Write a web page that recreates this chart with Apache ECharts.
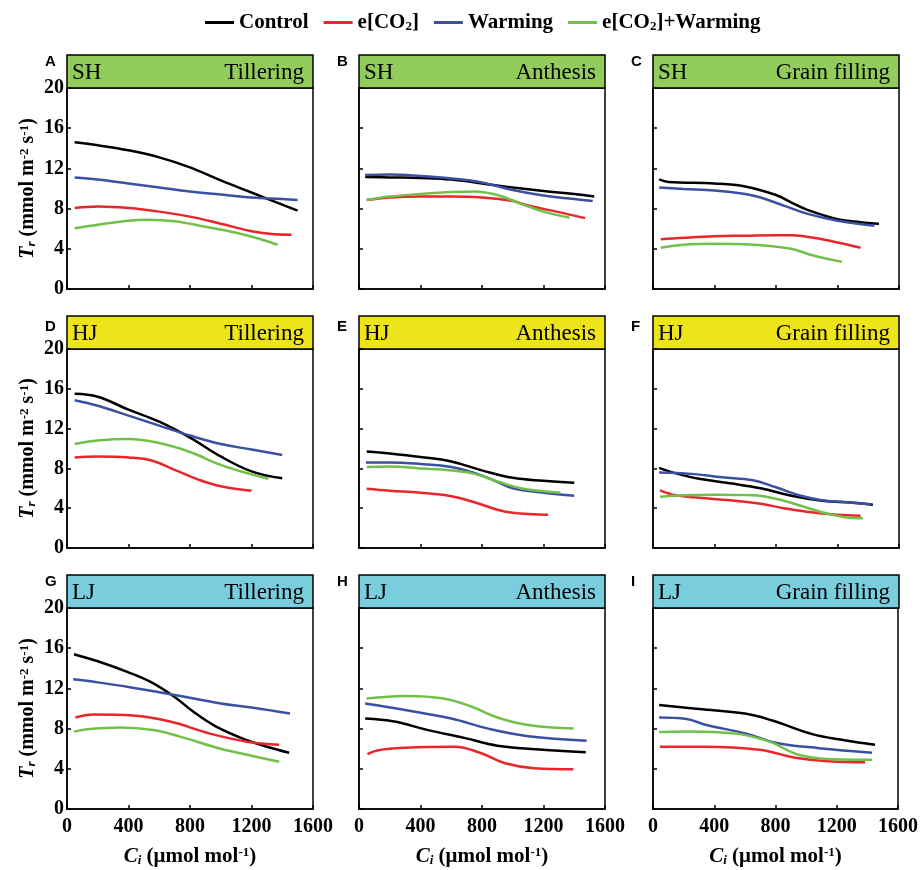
<!DOCTYPE html>
<html>
<head>
<meta charset="utf-8">
<title>Tr - Ci</title>
<script src="https://cdn.jsdelivr.net/npm/echarts@6/dist/echarts.min.js"></script>
<style>
  html, body { margin: 0; padding: 0; background: #fff; }
  #main { width: 921px; height: 870px; }
</style>
</head>
<body>
<div id="main"></div>
<script>
'use strict';
// 处理与面板名称
var treatments = ['Control', 'e[CO2]', 'Warming', 'e[CO2]+Warming'];
var treatmentColors = ['#000000', '#E8262B', '#3A50A2', '#71C04A'];
var sites = ['SH', 'HJ', 'LJ'];
var siteColors = ['#92CD5C', '#EEE41A', '#7ACDDC'];
var stages = ['Tillering', 'Anthesis', 'Grain filling'];
var panelLetters = ['A', 'B', 'C', 'D', 'E', 'F', 'G', 'H', 'I'];
var xTicks = [0, 400, 800, 1200, 1600];
var yTicks = [0, 4, 8, 12, 16, 20];

// A  SH Tillering  [Ci, Tr]
var A_control = [[50,14.6],[200,14.3],[400,13.8],[600,13.1],[800,12.1],[1000,10.8],[1200,9.6],[1400,8.4],[1500,7.8]];
var A_eco2 = [[50,8.05],[200,8.2],[400,8.05],[600,7.7],[800,7.2],[1000,6.5],[1200,5.75],[1350,5.45],[1460,5.4]];
var A_warm = [[50,11.1],[200,10.9],[400,10.5],[600,10.1],[800,9.7],[1000,9.4],[1200,9.1],[1400,8.95],[1500,8.85]];
var A_both = [[50,6.05],[200,6.4],[400,6.8],[520,6.9],[700,6.75],[900,6.2],[1100,5.6],[1250,5.0],[1370,4.4]];
// B  SH Anthesis
var B_control = [[40,11.15],[200,11.1],[400,11.05],[600,10.9],[800,10.5],[1000,10.1],[1200,9.75],[1400,9.45],[1530,9.2]];
var B_eco2 = [[50,8.85],[200,9.1],[400,9.2],[600,9.2],[800,9.1],[1000,8.75],[1100,8.3],[1300,7.65],[1470,7.05]];
var B_warm = [[40,11.35],[200,11.4],[400,11.25],[600,11.0],[800,10.6],[1000,9.85],[1200,9.3],[1400,8.95],[1520,8.75]];
var B_both = [[50,8.85],[200,9.2],[400,9.45],[600,9.65],[750,9.7],[900,9.35],[1050,8.5],[1200,7.7],[1370,7.1]];
// C  SH Grain filling
var C_control = [[40,10.9],[100,10.65],[400,10.5],[600,10.2],[800,9.35],[900,8.6],[1000,7.9],[1200,6.95],[1350,6.65],[1470,6.5]];
var C_eco2 = [[50,4.95],[200,5.1],[400,5.25],[600,5.3],[800,5.35],[900,5.35],[1000,5.2],[1150,4.8],[1350,4.1]];
var C_warm = [[40,10.1],[200,9.95],[400,9.8],[600,9.45],[700,9.1],[850,8.3],[1000,7.5],[1200,6.8],[1440,6.3]];
var C_both = [[50,4.1],[200,4.4],[400,4.5],[600,4.45],[780,4.25],[900,4.0],[1050,3.3],[1230,2.7]];
// D  HJ Tillering
var D_control = [[50,15.5],[200,15.2],[400,13.9],[600,12.7],[800,11.1],[1000,9.2],[1200,7.7],[1400,7.0]];
var D_eco2 = [[50,9.1],[200,9.2],[400,9.1],[550,8.8],[700,7.85],[850,6.9],[1000,6.2],[1200,5.75]];
var D_warm = [[50,14.85],[200,14.3],[400,13.3],[600,12.3],[800,11.3],[1000,10.45],[1200,9.9],[1400,9.35]];
var D_both = [[50,10.45],[200,10.8],[400,10.95],[600,10.55],[800,9.65],[1000,8.35],[1200,7.4],[1310,6.95]];
// E  HJ Anthesis
var E_control = [[50,9.7],[200,9.5],[400,9.15],[600,8.7],[800,7.8],[1000,7.05],[1200,6.75],[1400,6.55]];
var E_eco2 = [[50,5.95],[200,5.75],[400,5.55],[600,5.2],[750,4.6],[900,3.85],[1000,3.55],[1230,3.35]];
var E_warm = [[45,8.6],[200,8.6],[400,8.45],[600,8.15],[750,7.55],[900,6.65],[1000,6.0],[1200,5.55],[1400,5.25]];
var E_both = [[50,8.15],[200,8.2],[400,8.0],[600,7.8],[750,7.45],[900,6.7],[1050,6.0],[1200,5.7],[1310,5.55]];
// F  HJ Grain filling
var F_control = [[40,8.05],[150,7.5],[300,6.95],[500,6.5],[700,6.0],[900,5.25],[1100,4.75],[1300,4.55],[1430,4.35]];
var F_eco2 = [[45,5.8],[150,5.3],[300,5.05],[500,4.8],[700,4.45],[850,4.0],[1000,3.65],[1200,3.35],[1350,3.25]];
var F_warm = [[40,7.6],[250,7.45],[450,7.1],[650,6.8],[800,6.1],[950,5.3],[1100,4.8],[1300,4.55],[1420,4.35]];
var F_both = [[45,5.15],[200,5.3],[400,5.35],[650,5.3],[800,4.95],[950,4.3],[1100,3.6],[1250,3.1],[1365,3.0]];
// G  LJ Tillering
var G_control = [[45,15.4],[200,14.7],[400,13.6],[550,12.6],[700,11.15],[820,9.7],[970,8.2],[1170,6.85],[1300,6.2],[1445,5.6]];
var G_eco2 = [[55,9.1],[170,9.4],[430,9.3],[670,8.7],[930,7.5],[1170,6.7],[1380,6.4]];
var G_warm = [[40,12.9],[200,12.6],[400,12.15],[700,11.35],[1000,10.5],[1200,10.1],[1450,9.5]];
var G_both = [[45,7.7],[150,7.95],[345,8.1],[560,7.85],[735,7.2],[1000,6.0],[1200,5.3],[1380,4.7]];
// H  LJ Anthesis
var H_control = [[40,9.0],[230,8.7],[450,7.85],[690,7.05],[900,6.3],[1150,5.95],[1475,5.65]];
var H_eco2 = [[55,5.45],[125,5.85],[300,6.1],[620,6.2],[795,5.55],[950,4.55],[1140,4.05],[1395,3.95]];
var H_warm = [[40,10.5],[300,9.85],[600,9.0],[840,8.0],[1100,7.25],[1480,6.8]];
var H_both = [[50,11.0],[300,11.25],[550,11.0],[730,10.2],[900,9.1],[1100,8.35],[1395,8.0]];
// I  LJ Grain filling
var I_control = [[40,10.35],[300,9.95],[600,9.5],[780,8.8],[1040,7.45],[1250,6.85],[1450,6.4]];
var I_eco2 = [[45,6.2],[330,6.2],[695,5.9],[930,5.1],[1150,4.75],[1385,4.65]];
var I_warm = [[40,9.1],[220,8.95],[350,8.35],[610,7.5],[800,6.6],[1085,6.05],[1430,5.6]];
var I_both = [[40,7.65],[220,7.7],[540,7.5],[760,6.7],[950,5.4],[1170,4.95],[1430,4.9]];

var panelData = [
  [A_control, A_eco2, A_warm, A_both],
  [B_control, B_eco2, B_warm, B_both],
  [C_control, C_eco2, C_warm, C_both],
  [D_control, D_eco2, D_warm, D_both],
  [E_control, E_eco2, E_warm, E_both],
  [F_control, F_eco2, F_warm, F_both],
  [G_control, G_eco2, G_warm, G_both],
  [H_control, H_eco2, H_warm, H_both],
  [I_control, I_eco2, I_warm, I_both]
];

// 版面
var colLeft = [67, 359, 653];
var rowTop = [88, 349, 608];
var rowHeight = [201, 199, 201];
var plotWidth = 246;
var headerHeight = 33;
var serif = 'Liberation Serif';

function buildOption() {
  var grids = [], xAxes = [], yAxes = [], series = [], graphics = [];

  for (var p = 0; p < 9; p++) {
    var r = Math.floor(p / 3), c = p % 3;
    var gx = colLeft[c], gy = rowTop[r];

    grids.push({
      left: gx, top: gy, width: plotWidth, height: rowHeight[r],
      show: true, borderColor: '#000', borderWidth: 1.5, backgroundColor: 'transparent'
    });

    xAxes.push({
      type: 'value', gridIndex: p,
      min: xTicks[0], max: xTicks[xTicks.length - 1], interval: xTicks[1] - xTicks[0],
      axisLine: { lineStyle: { color: '#000', width: 1.5 } },
      axisTick: { inside: true, length: 4, lineStyle: { color: '#000', width: 1.5 } },
      axisLabel: {
        show: r === 2, margin: 8, color: '#000',
        fontFamily: serif, fontWeight: 'bold', fontSize: 20,
        formatter: function(v) { return String(v); }
      },
      splitLine: { show: false },
      name: r === 2 ? '{i|C}{sub|i} (μmol mol{sup|-1})' : '',
      nameLocation: 'middle', nameGap: 37,
      nameTextStyle: {
        color: '#000', fontFamily: serif, fontWeight: 'bold', fontSize: 21,
        rich: {
          i: { fontFamily: serif, fontWeight: 'bold', fontStyle: 'italic', fontSize: 21, color: '#000' },
          sub: { fontFamily: serif, fontWeight: 'bold', fontStyle: 'italic', fontSize: 13, verticalAlign: 'bottom', color: '#000' },
          sup: { fontFamily: serif, fontWeight: 'bold', fontSize: 13, verticalAlign: 'top', color: '#000' }
        }
      }
    });

    yAxes.push({
      type: 'value', gridIndex: p,
      min: yTicks[0], max: yTicks[yTicks.length - 1], interval: yTicks[1] - yTicks[0],
      axisLine: { lineStyle: { color: '#000', width: 1.5 } },
      axisTick: { inside: true, length: 4, lineStyle: { color: '#000', width: 1.5 } },
      axisLabel: {
        show: c === 0, margin: 3, color: '#000',
        fontFamily: serif, fontWeight: 'bold', fontSize: 20
      },
      splitLine: { show: false },
      name: c === 0 ? '{i|T}{sub|r} (mmol m{sup|-2} s{sup|-1})' : '',
      nameLocation: 'middle', nameGap: 29, nameRotate: 90,
      nameTextStyle: {
        color: '#000', fontFamily: serif, fontWeight: 'bold', fontSize: 20,
        rich: {
          i: { fontFamily: serif, fontWeight: 'bold', fontStyle: 'italic', fontSize: 20, color: '#000' },
          sub: { fontFamily: serif, fontWeight: 'bold', fontStyle: 'italic', fontSize: 13, verticalAlign: 'bottom', color: '#000' },
          sup: { fontFamily: serif, fontWeight: 'bold', fontSize: 13, verticalAlign: 'top', color: '#000' }
        }
      }
    });

    for (var t = 0; t < treatments.length; t++) {
      series.push({
        name: treatments[t], type: 'line',
        xAxisIndex: p, yAxisIndex: p,
        data: panelData[p][t],
        smooth: 0.4, showSymbol: false, symbol: 'none',
        lineStyle: { color: treatmentColors[t], width: 2.5 },
        itemStyle: { color: treatmentColors[t] },
        z: 3
      });
    }

    // 标题栏
    graphics.push({
      type: 'rect',
      shape: { x: gx, y: gy - headerHeight, width: plotWidth, height: headerHeight },
      style: { fill: siteColors[r], stroke: '#000', lineWidth: 1.5 }
    });
    graphics.push({
      type: 'text', x: gx + 5, y: gy - headerHeight / 2 + 1,
      style: { text: sites[r], fill: '#000', font: '23px "' + serif + '"', textAlign: 'left', textVerticalAlign: 'middle' }
    });
    graphics.push({
      type: 'text', x: gx + plotWidth - 9, y: gy - headerHeight / 2 + 1,
      style: { text: stages[c], fill: '#000', font: '23px "' + serif + '"', textAlign: 'right', textVerticalAlign: 'middle' }
    });
    graphics.push({
      type: 'text', x: gx - 22, y: gy - headerHeight + (r === 1 ? 11 : 7),
      style: { text: panelLetters[p], fill: '#000', font: 'bold 15px "Liberation Sans"', textAlign: 'left', textVerticalAlign: 'middle' }
    });
  }

  return {
    animation: false,
    backgroundColor: '#fff',
    legend: {
      data: treatments,
      top: 7, left: 200,
      icon: 'rect', itemWidth: 29, itemHeight: 3, itemGap: 15,
      formatter: function(name) {
        return name.replace('CO2', 'CO{sub|2}');
      },
      textStyle: {
        color: '#000', fontFamily: serif, fontWeight: 'bold', fontSize: 21,
        rich: {
          sub: { fontFamily: serif, fontWeight: 'bold', fontSize: 13, verticalAlign: 'bottom', color: '#000' }
        }
      }
    },
    grid: grids,
    xAxis: xAxes,
    yAxis: yAxes,
    series: series,
    graphic: graphics
  };
}

var chart = echarts.init(document.getElementById('main'), null, { renderer: 'canvas' });
chart.setOption(buildOption());
</script>
</body>
</html>
